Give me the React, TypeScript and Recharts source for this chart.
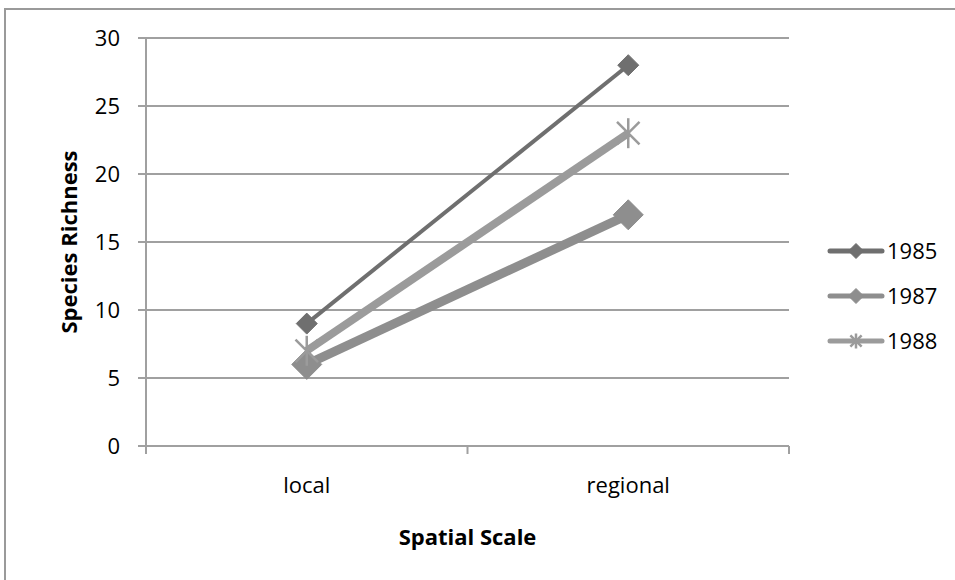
import React from 'react';
import { LineChart, Line, XAxis, YAxis, CartesianGrid } from 'recharts';

// Species richness at two spatial scales, for three survey years
const categories = ['local', 'regional'];
const series1985 = [9, 28];
const series1987 = [6, 17];
const series1988 = [7, 23];
const yTicks = [0, 5, 10, 15, 20, 25, 30];

const seriesMeta = [
  { key: 's1985', name: '1985', color: '#6f6f6f', width: 4, marker: 'diamond', size: 10.5 },
  { key: 's1987', name: '1987', color: '#8e8e8e', width: 9, marker: 'diamond', size: 15 },
  { key: 's1988', name: '1988', color: '#9b9b9b', width: 8, marker: 'star', size: 15 },
];

const data = categories.map((scale, i) => ({
  scale,
  s1985: series1985[i],
  s1987: series1987[i],
  s1988: series1988[i],
}));

const FONT = '"Open Sans", "Liberation Sans", sans-serif';
const AXIS_GREY = '#a0a0a0';
const TEXT_SIZE = 22;

function Marker({ cx, cy, type, size, color }: any) {
  if (type === 'star') {
    return (
      <g stroke={color} strokeWidth={2.5}>
        <line x1={cx} y1={cy - size} x2={cx} y2={cy + size} />
        <line x1={cx - size * 0.75} y1={cy - size * 0.75} x2={cx + size * 0.75} y2={cy + size * 0.75} />
        <line x1={cx - size * 0.75} y1={cy + size * 0.75} x2={cx + size * 0.75} y2={cy - size * 0.75} />
      </g>
    );
  }
  const s = size;
  return (
    <path
      d={`M${cx},${cy - s}L${cx + s},${cy}L${cx},${cy + s}L${cx - s},${cy}Z`}
      fill={color}
      stroke={color}
      strokeWidth={1}
      strokeLinejoin="round"
    />
  );
}

function makeDot(meta: any) {
  return (props: any) => {
    const { cx, cy, index } = props;
    if (cx == null || cy == null) return <g key={`${meta.key}-${index}`} />;
    return (
      <g key={`${meta.key}-${index}`}>
        <Marker cx={cx} cy={cy} type={meta.marker} size={meta.size} color={meta.color} />
      </g>
    );
  };
}

// Category label plus tick marks on the band boundaries
function CategoryTick(props: any) {
  const { x, y, payload, index, visibleTicksCount } = props;
  const half = payload && payload.offset ? payload.offset : 160.75;
  const axisY = 446;
  const last = index === (visibleTicksCount ?? categories.length) - 1;
  return (
    <g>
      <line x1={x - half} y1={axisY} x2={x - half} y2={axisY + 8} stroke={AXIS_GREY} strokeWidth={2} />
      {last && (
        <line x1={x + half} y1={axisY} x2={x + half} y2={axisY + 8} stroke={AXIS_GREY} strokeWidth={2} />
      )}
      <text x={x} y={y} dy="0.71em" textAnchor="middle" fontFamily={FONT} fontSize={TEXT_SIZE} fill="#000">
        {payload.value}
      </text>
    </g>
  );
}

function LegendBox() {
  return (
    <svg width={130} height={140} style={{ position: 'absolute', left: 820, top: 220 }}>
      {seriesMeta.map((m, i) => {
        const y = 31 + i * 45;
        return (
          <g key={m.key}>
            <line x1={10} y1={y} x2={62} y2={y} stroke={m.color} strokeWidth={5} strokeLinecap="round" />
            <Marker cx={36} cy={y} type={m.marker} size={7.5} color={m.color} />
            <text x={67} y={y} dy="0.36em" fontFamily={FONT} fontSize={TEXT_SIZE} fill="#000">
              {m.name}
            </text>
          </g>
        );
      })}
    </svg>
  );
}

export default function App() {
  return (
    <div style={{ position: 'absolute', left: 0, top: 0, width: 955, height: 580, background: '#fff', overflow: 'hidden' }}>
      <div
        style={{
          position: 'absolute',
          left: 4,
          top: 8,
          width: 980,
          height: 600,
          border: '2px solid #9a9a9a',
          boxSizing: 'border-box',
        }}
      />
      <div style={{ position: 'absolute', left: 0, top: 0 }}>
        <LineChart
          width={955}
          height={580}
          data={data}
          margin={{ top: 38, right: 166, bottom: 94, left: 86 }}
        >
          <CartesianGrid vertical={false} stroke={AXIS_GREY} strokeWidth={2} />
          <XAxis
            dataKey="scale"
            scale="band"
            height={40}
            axisLine={{ stroke: AXIS_GREY, strokeWidth: 2 }}
            tickLine={false}
            tickMargin={25}
            tick={<CategoryTick />}
            interval={0}
            label={{
              value: 'Spatial Scale',
              content: (p: any) => {
                const vb = p.viewBox || {};
                return (
                  <text
                    x={vb.x + vb.width / 2}
                    y={545}
                    textAnchor="middle"
                    fontFamily={FONT}
                    fontWeight="bold"
                    fontSize={TEXT_SIZE}
                    fill="#000"
                  >
                    Spatial Scale
                  </text>
                );
              },
            }}
          />
          <YAxis
            width={60}
            domain={[0, 30]}
            ticks={yTicks}
            interval={0}
            tickSize={8}
            tickMargin={18}
            axisLine={{ stroke: AXIS_GREY, strokeWidth: 2 }}
            tickLine={{ stroke: AXIS_GREY, strokeWidth: 2 }}
            tick={{ fontFamily: FONT, fontSize: TEXT_SIZE, fill: '#000' }}
            label={{
              value: 'Species Richness',
              content: (p: any) => {
                const vb = p.viewBox || {};
                const cy = vb.y + vb.height / 2;
                return (
                  <text
                    x={77}
                    y={cy}
                    transform={`rotate(-90 77 ${cy})`}
                    textAnchor="middle"
                    fontFamily={FONT}
                    fontWeight="bold"
                    fontSize={TEXT_SIZE}
                    fill="#000"
                  >
                    Species Richness
                  </text>
                );
              },
            }}
          />
          {seriesMeta.map((m) => (
            <Line
              key={m.key}
              type="linear"
              dataKey={m.key}
              name={m.name}
              stroke={m.color}
              strokeWidth={m.width}
              dot={makeDot(m)}
              activeDot={false}
              isAnimationActive={false}
            />
          ))}
        </LineChart>
      </div>
      <LegendBox />
    </div>
  );
}
